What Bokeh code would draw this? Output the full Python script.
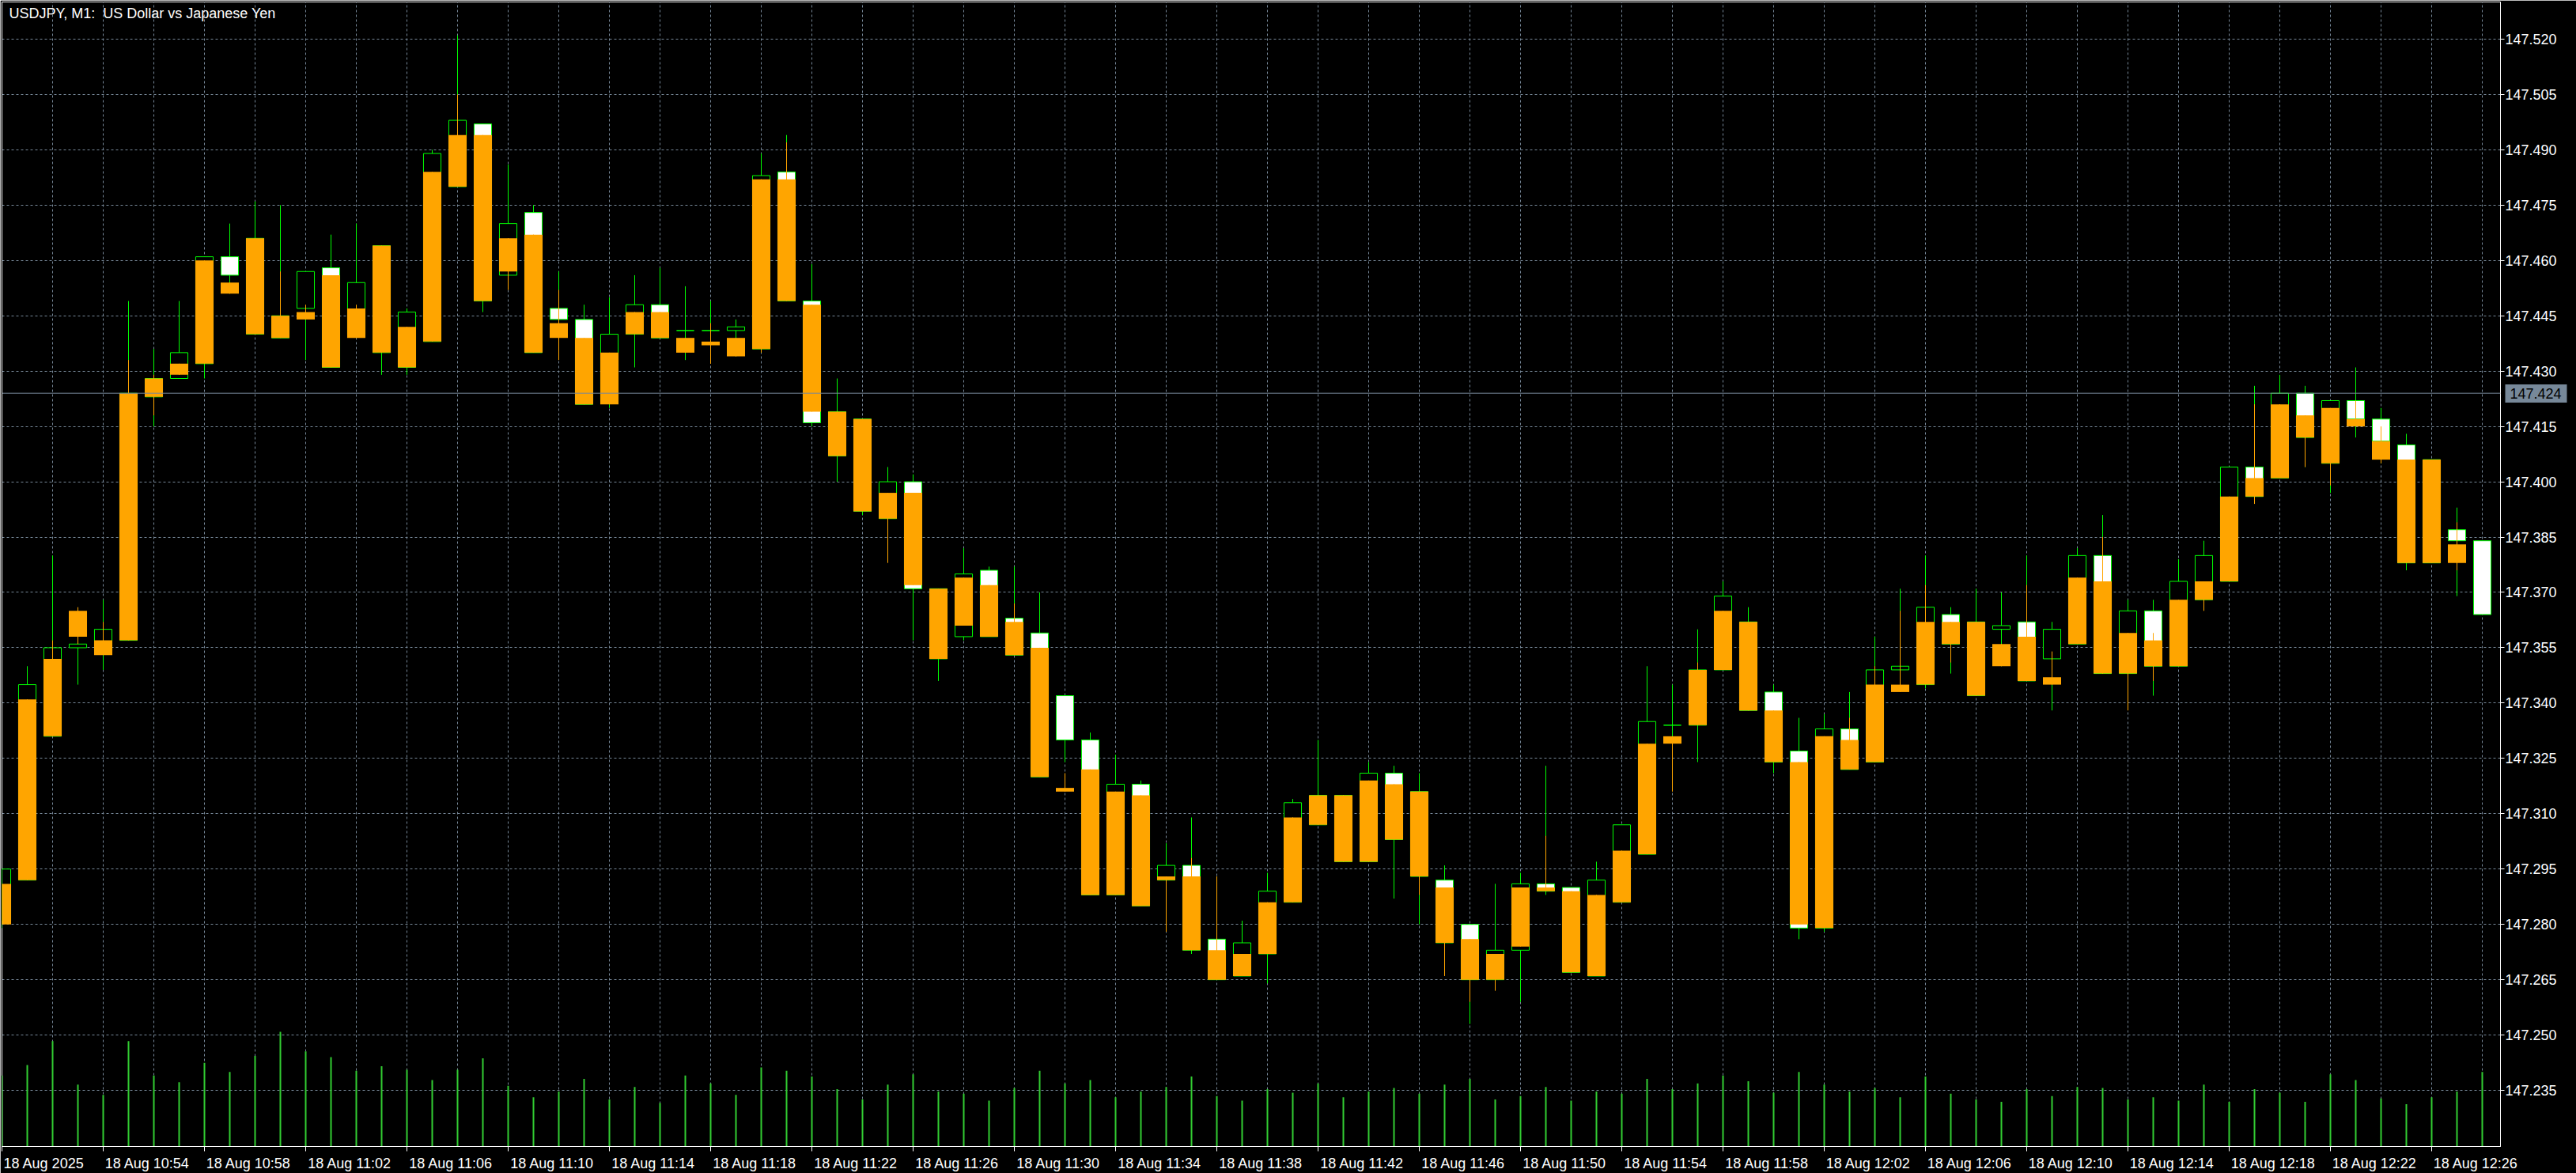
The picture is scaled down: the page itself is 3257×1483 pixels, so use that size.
from bokeh.plotting import figure
from bokeh.models import (Range1d, LinearAxis, FixedTicker, PrintfTickFormatter,
                          Span, Label, Grid)
from bokeh.embed import file_html
from bokeh.resources import INLINE

# ---------------- data (USDJPY M1, 18 Aug 2025, 10:50 .. 12:28) ----------------
bar_index = list(range(99))

g_open = [147.281, 147.292, 147.331, 147.355, 147.354, 147.357, 147.423, 147.428, 147.432, 147.461,
          147.440, 147.445, 147.447, 147.458, 147.440, 147.435, 147.431, 147.438, 147.480, 147.497,
          147.456, 147.473, 147.447, 147.444, 147.422, 147.440, 147.448, 147.441, 147.441, 147.441,
          147.436, 147.484, 147.449, 147.419, 147.417, 147.390, 147.400, 147.371, 147.358, 147.376,
          147.363, 147.359, 147.342, 147.330, 147.288, 147.318, 147.292, 147.296, 147.276, 147.266,
          147.272, 147.286, 147.307, 147.297, 147.297, 147.321, 147.316, 147.292, 147.280, 147.265,
          147.273, 147.291, 147.290, 147.266, 147.286, 147.299, 147.334, 147.334, 147.349, 147.362,
          147.343, 147.327, 147.279, 147.333, 147.324, 147.349, 147.345, 147.364, 147.362, 147.360,
          147.362, 147.352, 147.356, 147.380, 147.348, 147.365, 147.350, 147.368, 147.373, 147.404,
          147.401, 147.424, 147.405, 147.422, 147.417, 147.410, 147.406, 147.387, 147.384]

g_high = [147.295, 147.350, 147.380, 147.360, 147.368, 147.449, 147.436, 147.449, 147.461, 147.470,
          147.476, 147.475, 147.457, 147.467, 147.470, 147.464, 147.447, 147.490, 147.521, 147.497,
          147.486, 147.475, 147.457, 147.448, 147.450, 147.456, 147.458, 147.453, 147.449, 147.444,
          147.489, 147.494, 147.459, 147.428, 147.417, 147.404, 147.402, 147.371, 147.382, 147.377,
          147.377, 147.370, 147.342, 147.332, 147.326, 147.319, 147.302, 147.309, 147.293, 147.281,
          147.294, 147.314, 147.330, 147.315, 147.324, 147.323, 147.321, 147.296, 147.280, 147.291,
          147.294, 147.323, 147.290, 147.297, 147.307, 147.350, 147.345, 147.360, 147.373, 147.366,
          147.345, 147.336, 147.337, 147.343, 147.358, 147.371, 147.380, 147.366, 147.371, 147.370,
          147.380, 147.362, 147.382, 147.391, 147.368, 147.368, 147.379, 147.384, 147.404, 147.426,
          147.429, 147.426, 147.422, 147.431, 147.420, 147.413, 147.406, 147.393, 147.384]

g_low = [147.279, 147.292, 147.331, 147.345, 147.349, 147.357, 147.415, 147.428, 147.428, 147.451,
         147.440, 147.439, 147.433, 147.431, 147.439, 147.429, 147.429, 147.438, 147.480, 147.446,
         147.456, 147.435, 147.443, 147.421, 147.420, 147.431, 147.439, 147.433, 147.437, 147.434,
         147.435, 147.449, 147.415, 147.400, 147.391, 147.390, 147.357, 147.346, 147.357, 147.358,
         147.353, 147.320, 147.324, 147.288, 147.288, 147.285, 147.292, 147.272, 147.265, 147.266,
         147.264, 147.286, 147.307, 147.297, 147.297, 147.287, 147.280, 147.275, 147.253, 147.265,
         147.259, 147.288, 147.267, 147.266, 147.286, 147.299, 147.329, 147.324, 147.349, 147.338,
         147.321, 147.276, 147.278, 147.322, 147.324, 147.348, 147.344, 147.348, 147.342, 147.350,
         147.346, 147.338, 147.356, 147.348, 147.348, 147.342, 147.350, 147.368, 147.373, 147.394,
         147.401, 147.404, 147.397, 147.412, 147.405, 147.376, 147.378, 147.369, 147.364]

g_close = [147.295, 147.345, 147.355, 147.356, 147.360, 147.424, 147.428, 147.435, 147.461, 147.456,
           147.466, 147.439, 147.457, 147.431, 147.454, 147.464, 147.446, 147.489, 147.498, 147.449,
           147.470, 147.435, 147.444, 147.421, 147.440, 147.448, 147.439, 147.441, 147.441, 147.442,
           147.483, 147.449, 147.416, 147.407, 147.392, 147.400, 147.371, 147.352, 147.375, 147.358,
           147.353, 147.320, 147.330, 147.288, 147.318, 147.285, 147.296, 147.273, 147.265, 147.275,
           147.289, 147.313, 147.315, 147.315, 147.321, 147.303, 147.293, 147.275, 147.265, 147.273,
           147.291, 147.289, 147.267, 147.292, 147.307, 147.335, 147.334, 147.349, 147.369, 147.338,
           147.324, 147.279, 147.333, 147.322, 147.349, 147.350, 147.366, 147.356, 147.342, 147.361,
           147.346, 147.360, 147.380, 147.348, 147.365, 147.350, 147.373, 147.380, 147.404, 147.396,
           147.424, 147.412, 147.422, 147.417, 147.411, 147.378, 147.378, 147.384, 147.364]

# second (orange) candle series, 10:50 .. 12:27
orange_index = list(range(98))

o_top = [147.291, 147.341, 147.352, 147.365, 147.357, 147.424, 147.428, 147.432, 147.460, 147.454,
         147.466, 147.445, 147.446, 147.456, 147.447, 147.464, 147.442, 147.484, 147.494, 147.494,
         147.466, 147.467, 147.443, 147.439, 147.435, 147.446, 147.446, 147.439, 147.438, 147.439,
         147.482, 147.482, 147.448, 147.419, 147.417, 147.397, 147.397, 147.371, 147.374, 147.372,
         147.362, 147.355, 147.317, 147.322, 147.316, 147.315, 147.293, 147.293, 147.273, 147.272,
         147.286, 147.309, 147.315, 147.315, 147.319, 147.318, 147.316, 147.290, 147.276, 147.272,
         147.290, 147.290, 147.289, 147.288, 147.300, 147.329, 147.331, 147.349, 147.365, 147.362,
         147.338, 147.324, 147.331, 147.330, 147.345, 147.345, 147.362, 147.362, 147.362, 147.356,
         147.358, 147.347, 147.374, 147.373, 147.359, 147.357, 147.368, 147.373, 147.396, 147.401,
         147.421, 147.418, 147.420, 147.417, 147.411, 147.406, 147.406, 147.383]

o_bottom = [147.280, 147.292, 147.331, 147.358, 147.353, 147.357, 147.423, 147.429, 147.432, 147.451,
            147.440, 147.439, 147.444, 147.431, 147.439, 147.435, 147.431, 147.438, 147.480, 147.449,
            147.457, 147.435, 147.439, 147.421, 147.421, 147.440, 147.439, 147.435, 147.437, 147.434,
            147.436, 147.449, 147.419, 147.407, 147.392, 147.390, 147.372, 147.352, 147.361, 147.358,
            147.353, 147.320, 147.316, 147.288, 147.288, 147.285, 147.292, 147.273, 147.265, 147.266,
            147.272, 147.286, 147.307, 147.297, 147.297, 147.303, 147.293, 147.275, 147.265, 147.265,
            147.274, 147.289, 147.267, 147.266, 147.286, 147.299, 147.329, 147.334, 147.349, 147.338,
            147.324, 147.280, 147.279, 147.322, 147.324, 147.343, 147.345, 147.356, 147.342, 147.350,
            147.346, 147.345, 147.356, 147.348, 147.348, 147.350, 147.350, 147.368, 147.373, 147.396,
            147.401, 147.412, 147.405, 147.415, 147.406, 147.378, 147.378, 147.378]

o_high = [147.291, 147.341, 147.357, 147.366, 147.362, 147.433, 147.429, 147.432, 147.460, 147.454,
          147.466, 147.457, 147.448, 147.456, 147.448, 147.464, 147.442, 147.484, 147.505, 147.494,
          147.466, 147.467, 147.452, 147.439, 147.435, 147.446, 147.446, 147.439, 147.443, 147.439,
          147.482, 147.492, 147.448, 147.419, 147.417, 147.397, 147.397, 147.371, 147.374, 147.372,
          147.367, 147.355, 147.321, 147.322, 147.316, 147.315, 147.293, 147.298, 147.293, 147.272,
          147.286, 147.309, 147.315, 147.315, 147.319, 147.318, 147.316, 147.290, 147.276, 147.272,
          147.290, 147.304, 147.289, 147.288, 147.300, 147.329, 147.331, 147.351, 147.365, 147.362,
          147.338, 147.324, 147.331, 147.336, 147.350, 147.365, 147.372, 147.362, 147.362, 147.356,
          147.372, 147.354, 147.374, 147.385, 147.359, 147.359, 147.368, 147.373, 147.396, 147.421,
          147.421, 147.418, 147.420, 147.422, 147.415, 147.406, 147.406, 147.389]

o_low = [147.280, 147.292, 147.331, 147.356, 147.353, 147.357, 147.418, 147.429, 147.432, 147.451,
         147.440, 147.439, 147.444, 147.431, 147.439, 147.435, 147.431, 147.438, 147.480, 147.449,
         147.452, 147.435, 147.433, 147.421, 147.421, 147.440, 147.439, 147.435, 147.432, 147.434,
         147.435, 147.449, 147.419, 147.407, 147.392, 147.378, 147.372, 147.352, 147.361, 147.358,
         147.353, 147.320, 147.316, 147.288, 147.288, 147.285, 147.278, 147.273, 147.265, 147.266,
         147.272, 147.286, 147.307, 147.297, 147.297, 147.303, 147.288, 147.266, 147.259, 147.262,
         147.274, 147.289, 147.267, 147.266, 147.286, 147.299, 147.316, 147.334, 147.349, 147.338,
         147.324, 147.280, 147.279, 147.322, 147.324, 147.343, 147.345, 147.351, 147.342, 147.350,
         147.346, 147.345, 147.356, 147.348, 147.338, 147.346, 147.350, 147.365, 147.373, 147.394,
         147.401, 147.404, 147.399, 147.415, 147.405, 147.378, 147.378, 147.376]

tick_volume = [62, 71, 92, 54, 45, 92, 62, 56, 73, 65, 79, 100, 83, 78, 66, 70, 67, 58, 67, 77, 53, 43,
               48, 59, 41, 52, 38, 62, 55, 45, 69, 66, 61, 50, 41, 54, 63, 48, 46, 40,
               51, 66, 55, 58, 43, 48, 52, 61, 44, 40, 50, 47, 55, 43, 48, 51, 46, 54, 59, 41,
               44, 52, 40, 48, 46, 59, 50, 55, 62, 57, 47, 65, 54, 48, 51, 43, 61, 46, 41, 39,
               50, 44, 52, 51, 41, 43, 40, 54, 39, 50, 47, 39, 63, 58, 42, 37, 43, 48, 65]

price_ticks = [147.235, 147.250, 147.265, 147.280, 147.295, 147.310, 147.325, 147.340, 147.355, 147.370,
               147.385, 147.400, 147.415, 147.430, 147.445, 147.460, 147.475, 147.490, 147.505, 147.520]

time_tick_index = [0, 4, 8, 12, 16, 20, 24, 28, 32, 36, 40, 44, 48, 52, 56, 60, 64, 68, 72, 76, 80, 84, 88, 92, 96]
time_tick_labels = ["18 Aug 2025", "18 Aug 10:54", "18 Aug 10:58", "18 Aug 11:02", "18 Aug 11:06",
                    "18 Aug 11:10", "18 Aug 11:14", "18 Aug 11:18", "18 Aug 11:22", "18 Aug 11:26",
                    "18 Aug 11:30", "18 Aug 11:34", "18 Aug 11:38", "18 Aug 11:42", "18 Aug 11:46",
                    "18 Aug 11:50", "18 Aug 11:54", "18 Aug 11:58", "18 Aug 12:02", "18 Aug 12:06",
                    "18 Aug 12:10", "18 Aug 12:14", "18 Aug 12:18", "18 Aug 12:22", "18 Aug 12:26"]

current_price = 147.424
title_text = "USDJPY, M1: \u00a0US Dollar vs Japanese Yen"

# ---------------- layout ----------------
W, H = 3257, 1483
B_LEFT, B_TOP, B_RIGHT, B_BOTTOM = 2, 2, 96, 33
FRAME_W = W - B_LEFT - B_RIGHT      # 3159
FRAME_H = H - B_TOP - B_BOTTOM      # 1448
PX_PRICE = 0.015 / 70.0             # price per pixel
y_top = 147.520 + 47 * PX_PRICE
y_bot = y_top - FRAME_H * PX_PRICE
x_end = FRAME_W / 32.0              # 32 px per one-minute bar

FONT = "Liberation Sans"
GREEN = "#00FF00"
ORANGE = "#FFA500"
GRID = "#778899"

p = figure(width=W, height=H, x_range=Range1d(0, x_end), y_range=Range1d(y_bot, y_top),
           output_backend="svg", toolbar_location=None,
           x_axis_location=None, y_axis_location=None,
           min_border_left=B_LEFT, min_border_top=B_TOP,
           min_border_right=B_RIGHT, min_border_bottom=B_BOTTOM,
           background_fill_color="black", border_fill_color="black",
           outline_line_color="white", outline_line_width=1)
# drop the default (solid) grids that figure() creates
p.center = [r for r in p.center if not isinstance(r, Grid)]
p.extra_y_ranges = {"vol": Range1d(0, FRAME_H / 1.45)}

# dashed grids
p.add_layout(Grid(dimension=0, ticker=FixedTicker(ticks=list(range(0, 99, 2))),
                  grid_line_color=GRID, grid_line_dash="3 3", grid_line_width=1))
p.add_layout(Grid(dimension=1, ticker=FixedTicker(ticks=price_ticks),
                  grid_line_color=GRID, grid_line_dash="3 3", grid_line_width=1))

# price axis (right)
yax = LinearAxis(ticker=FixedTicker(ticks=price_ticks),
                 formatter=PrintfTickFormatter(format="%.3f"),
                 axis_line_color="white", major_tick_line_color="white",
                 major_tick_in=0, major_tick_out=5, minor_tick_line_color=None,
                 major_label_text_color="white", major_label_text_font=FONT,
                 major_label_text_font_size="18px", major_label_standoff=1)
p.add_layout(yax, "right")

# current-price marker on the price scale: a thick inward tick forms the grey box
YAX_SIZE = 71
cax = LinearAxis(ticker=FixedTicker(ticks=[current_price]),
                 formatter=PrintfTickFormatter(format="%.3f"),
                 axis_line_color=None, minor_tick_line_color=None,
                 major_tick_line_color=GRID, major_tick_line_width=23,
                 major_tick_line_cap="butt",
                 major_tick_in=YAX_SIZE - 3, major_tick_out=10,
                 major_label_text_color="black", major_label_text_font=FONT,
                 major_label_text_font_size="18px",
                 major_label_standoff=-(YAX_SIZE + 10 - 9))
p.add_layout(cax, "right")

# time axis (below): tick marks as minor ticks, labels left-aligned to them
label_pos = []
label_over = {}
for t, s in zip(time_tick_index, time_tick_labels):
    off = 1.66 if t == 0 else 1.74
    pos = round(t + off, 2)
    label_pos.append(pos)
    label_over[pos] = s

xax = LinearAxis(ticker=FixedTicker(ticks=label_pos, minor_ticks=time_tick_index),
                 major_label_overrides=label_over,
                 axis_line_color="white", major_tick_line_color=None,
                 major_tick_in=0, major_tick_out=0,
                 minor_tick_line_color="white", minor_tick_in=0, minor_tick_out=6,
                 major_label_text_color="white", major_label_text_font=FONT,
                 major_label_text_font_size="18px", major_label_standoff=5)
p.add_layout(xax, "below")

# volumes
p.segment(x0=bar_index, y0=[0] * len(bar_index), x1=bar_index, y1=tick_volume,
          y_range_name="vol", line_color="#32CD32", line_width=2)

# green-outlined candles
g_top = [max(o, c) for o, c in zip(g_open, g_close)]
g_bot = [min(o, c) for o, c in zip(g_open, g_close)]
g_fill = ["black" if c >= o else "white" for o, c in zip(g_open, g_close)]
p.segment(x0=bar_index, y0=g_low, x1=bar_index, y1=g_high, line_color=GREEN, line_width=1)
p.vbar(x=bar_index, width=0.69, top=g_top, bottom=g_bot, fill_color=g_fill,
       line_color=GREEN, line_width=1)

# orange candles
p.segment(x0=orange_index, y0=o_low, x1=orange_index, y1=o_high, line_color=ORANGE, line_width=1)
p.vbar(x=orange_index, width=0.72, top=o_top, bottom=o_bottom, fill_color=ORANGE, line_color=None)

# current price line
p.add_layout(Span(location=current_price, dimension="width", line_color=GRID, line_width=1))

# title
p.add_layout(Label(x=0, y=y_top - 14.5 * PX_PRICE, x_offset=9, text=title_text,
                   text_color="white", text_font=FONT, text_font_size="18px",
                   text_baseline="middle", text_align="left"))

open("out.html", "w").write(file_html(p, INLINE))
